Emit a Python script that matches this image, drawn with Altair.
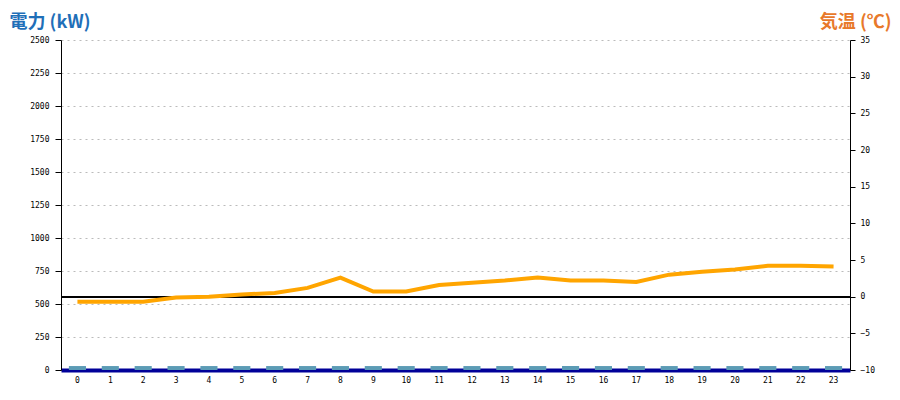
import altair as alt
import pandas as pd

hours = list(range(24))
power_kw = [30] * 24
temp_c = [-0.7, -0.7, -0.7, -0.1, 0.0, 0.3, 0.5, 1.2, 2.6, 0.7, 0.7, 1.6,
          1.9, 2.2, 2.6, 2.2, 2.2, 2.0, 3.0, 3.4, 3.7, 4.2, 4.2, 4.1]
left_ticks = list(range(0, 2501, 250))
right_ticks = list(range(-10, 36, 5))

df = pd.DataFrame({"hour": hours, "power": power_kw, "temp": temp_c})

label_font = "DejaVu Sans Mono"
title_font = "Noto Sans CJK JP"

x_enc = alt.X(
    "hour:O",
    scale=alt.Scale(paddingInner=0.48, paddingOuter=0.24),
    axis=alt.Axis(
        title=None, labelAngle=0, ticks=False, domainColor="#000099",
        domainWidth=4, labelFont=label_font, labelFontSize=8,
        labelColor="#000000", labelPadding=6, grid=False,
    ),
)

bars = alt.Chart(df).mark_bar(color="#5b9bb5").encode(
    x=x_enc,
    y=alt.Y(
        "power:Q",
        scale=alt.Scale(domain=[0, 2500], nice=False),
        axis=alt.Axis(
            values=left_ticks, format="d", title="電力 (kW)", titleAngle=0,
            titleX=-52, titleY=-13, titleAlign="left", titleBaseline="alphabetic",
            titleFont=title_font, titleFontSize=18, titleFontWeight="bold",
            titleColor="#1f6fb8", labelFont=label_font, labelFontSize=8,
            labelColor="#000000", labelPadding=6, tickSize=6,
            tickColor="#000000", domainColor="#000000",
            grid=True, gridColor="#bbbbbb", gridDash=[2, 4], gridWidth=1,
        ),
    ),
)

temp_axis = alt.Axis(
    orient="right", values=right_ticks, format="d", title="気温 (℃)", titleAngle=0,
    titleX=41, titleY=-13, titleAlign="right", titleBaseline="alphabetic",
    titleFont=title_font, titleFontSize=18, titleFontWeight="bold",
    titleColor="#e8792a", labelFont=label_font, labelFontSize=8,
    labelColor="#000000", labelPadding=5, tickSize=5,
    tickColor="#000000", domainColor="#000000", grid=False,
)
temp_scale = alt.Scale(domain=[-10, 35], nice=False)

zero_rule = alt.Chart(df).mark_rule(color="#000000", strokeWidth=1).encode(
    y=alt.Y(datum=0, type="quantitative", scale=temp_scale, axis=temp_axis)
)

line = alt.Chart(df).mark_line(color="#ffa500", strokeWidth=4, interpolate="linear").encode(
    x=alt.X("hour:O"),
    y=alt.Y("temp:Q", scale=temp_scale, axis=temp_axis),
)

right = alt.layer(zero_rule, line)

chart = alt.layer(bars, right).resolve_scale(y="independent").resolve_axis(y="independent").properties(
    width=789,
    height=330,
    autosize=alt.AutoSizeParams(type="none"),
    padding={"left": 53, "top": 32, "right": 42, "bottom": 20},
).configure_view(stroke=None)

chart.save("out.html", embed_options={"renderer": "svg", "actions": False})
